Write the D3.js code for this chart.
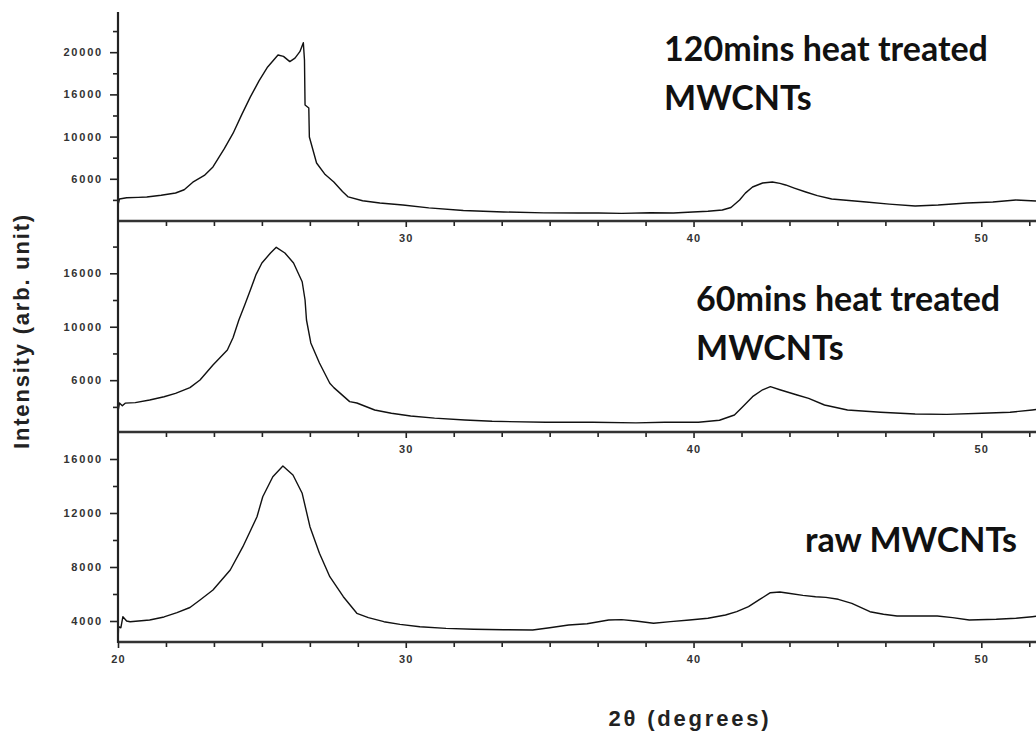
<!DOCTYPE html>
<html><head><meta charset="utf-8">
<script src="https://cdn.jsdelivr.net/npm/d3@7"></script>
<style>body{margin:0;background:#fff}svg{display:block}</style>
</head><body><svg id="c" width="1036" height="731"></svg>
<script>
// ---- data (2θ in degrees, intensity in arb. unit) ----
const xTickValues = [20, 30, 40, 50];
const xTickLabels = ["20", "30", "40", "50"];

const top_x = [20.0,20.05,20.3,20.7,21.0,21.5,22.0,22.3,22.6,23.0,23.3,23.7,24.0,24.3,24.6,24.9,25.2,25.56,25.75,25.97,26.15,26.32,26.44,26.48,26.5,26.63,26.65,26.9,27.2,27.5,27.8,28.0,28.5,29.1,29.9,30.8,32.0,33.4,34.8,36.0,36.7,37.5,38.5,39.3,39.97,40.5,41.0,41.3,41.6,41.8,42.05,42.4,42.74,43.0,43.2,43.5,43.9,44.3,44.8,45.3,46.0,46.8,47.7,48.5,49.5,50.4,51.2,51.9];
const top_y = [1900,2600,2750,2800,2850,3050,3320,3700,4600,5400,6400,8600,10400,12600,14700,16600,18250,19670,19500,18880,19300,20060,21130,19080,13750,13390,9950,6870,5500,4620,3500,2850,2400,2130,1900,1550,1250,1070,960,950,950,900,980,950,1070,1150,1300,1600,2490,3300,4030,4500,4620,4450,4270,3900,3440,3000,2600,2450,2250,2000,1780,1900,2130,2250,2490,2370];
const top_tickValues = [20000, 15000, 10000, 5000];
const top_tickLabels = ["20000", "16000", "10000", "6000"];
const top_minor = [2500, 7500, 12500, 17500, 22500];

const mid_x = [20.0,20.05,20.15,20.25,20.6,21.1,21.6,22.0,22.5,22.85,23.3,23.8,24.0,24.2,24.4,24.6,24.8,25.0,25.3,25.5,25.8,26.1,26.4,26.5,26.55,26.7,27.0,27.36,27.5,28.05,28.3,28.92,29.5,30.17,31.0,32.05,33.0,34.86,36.5,38.0,39.0,40.17,40.9,41.42,41.7,42.05,42.4,42.67,43.0,43.6,44.0,44.55,45.35,46.5,47.7,48.8,50.03,51.0,51.77,51.9];
const mid_y = [2050,2860,2600,2850,2900,3140,3450,3770,4300,5020,6420,7820,9000,10630,12000,13440,14900,15960,16900,17430,16900,15960,14210,12500,10630,8480,6610,4707,4300,2990,2864,2209,1900,1647,1450,1273,1150,1058,1060,1000,1060,1058,1250,1741,2500,3453,4100,4389,4100,3612,3300,2676,2209,2000,1834,1800,1900,2000,2209,2250];
const mid_tickValues = [15000, 10000, 5000];
const mid_tickLabels = ["16000", "10000", "6000"];
const mid_minor = [2500, 7500, 12500, 17500];

const raw_x = [20.0,20.02,20.1,20.17,20.3,20.42,21.1,21.6,22.05,22.5,22.85,23.3,23.9,24.34,24.83,25.03,25.38,25.73,26.08,26.4,26.67,27.0,27.36,27.83,28.3,28.7,29.24,29.8,30.49,31.4,32.36,33.4,34.41,35.0,35.66,36.3,37.05,37.5,37.99,38.61,39.2,39.86,40.5,41.11,41.5,41.91,42.3,42.67,43.0,43.3,43.8,44.24,44.6,45.03,45.5,46.13,46.6,47.07,48.47,49.0,49.58,50.52,51.2,51.77,51.9];
const raw_y = [2470,3578,3500,4318,4000,3948,4074,4300,4615,5000,5556,6296,7778,9504,11725,13207,14689,15481,14815,13459,10985,9015,7281,5800,4570,4250,3948,3750,3578,3450,3385,3350,3333,3500,3704,3800,4074,4100,4000,3830,3950,4074,4200,4444,4700,5059,5600,6096,6150,6052,5900,5800,5750,5607,5311,4689,4500,4370,4370,4250,4074,4126,4200,4318,4350];
const raw_tickValues = [16000, 12000, 8000, 4000];
const raw_tickLabels = ["16000", "12000", "8000", "4000"];
const raw_minor = [6000, 10000, 14000];

const annotations = [
  ["120mins heat treated", "MWCNTs"],
  ["60mins heat treated", "MWCNTs"],
  ["raw MWCNTs"]
];

// ---- layout ----
const svg = d3.select("#c");
const X0 = 118, X1 = 1036;
const x = d3.scaleLinear().domain([20, 51.9]).range([X0, X1]);
const xMinor = d3.range(0, 20).map(i => 20 + i * 10 / 6).filter(v => v <= 51.9 && Math.abs(v - Math.round(v / 10) * 10) > 0.01);

const panels = [
  {xs: top_x, ys: top_y, domain: [0, 24760], range: [221, 12], tv: top_tickValues, tl: top_tickLabels, minor: top_minor,
   ann: annotations[0], ax: 664, ay: [61, 110], showX20: false},
  {xs: mid_x, ys: mid_y, domain: [150, 19800], range: [432, 222], tv: mid_tickValues, tl: mid_tickLabels, minor: mid_minor,
   ann: annotations[1], ax: 696, ay: [311, 360], showX20: false},
  {xs: raw_x, ys: raw_y, domain: [2444, 18000], range: [642, 432], tv: raw_tickValues, tl: raw_tickLabels, minor: raw_minor,
   ann: annotations[2], ax: 805, ay: [552], showX20: true}
];

const tickFont = "bold 11px Arial, 'Liberation Sans', sans-serif";

panels.forEach(p => {
  const y = d3.scaleLinear().domain(p.domain).range(p.range);
  const pts = p.xs.map((d, i) => [d, p.ys[i]]);
  svg.append("path").datum(pts)
    .attr("fill", "none").attr("stroke", "#111").attr("stroke-width", 1.4)
    .attr("stroke-linejoin", "round")
    .attr("d", d3.line().x(d => x(d[0])).y(d => y(d[1])));

  const labMap = new Map(p.tv.map((v, i) => [v, p.tl[i]]));
  const gy = svg.append("g").attr("transform", `translate(${X0},0)`)
    .call(d3.axisLeft(y).tickValues(p.tv).tickSize(8).tickPadding(7).tickFormat(v => labMap.get(v)));
  gy.select(".domain").remove();
  gy.selectAll("line").attr("stroke", "#222").attr("stroke-width", 1.6);
  gy.selectAll("text").style("font", tickFont).style("letter-spacing", "1.8px").attr("fill", "#333");
  const gym = svg.append("g").attr("transform", `translate(${X0},0)`)
    .call(d3.axisLeft(y).tickValues(p.minor).tickSize(5).tickFormat(""));
  gym.select(".domain").remove();
  gym.selectAll("line").attr("stroke", "#222").attr("stroke-width", 1.6);

  const yb = p.range[0];
  const xv = p.showX20 ? xTickValues : xTickValues.slice(1);
  const xl = new Map(xTickValues.map((v, i) => [v, xTickLabels[i]]));
  const gx = svg.append("g").attr("transform", `translate(0,${yb})`)
    .call(d3.axisBottom(x).tickValues(xv).tickSize(6).tickPadding(7).tickFormat(v => xl.get(v)));
  gx.select(".domain").remove();
  gx.selectAll("line").attr("stroke", "#222").attr("stroke-width", 1.6);
  gx.selectAll("text").style("font", tickFont).style("letter-spacing", "1.2px").attr("fill", "#333");
  const gxm = svg.append("g").attr("transform", `translate(0,${yb})`)
    .call(d3.axisBottom(x).tickValues(xMinor).tickSize(5).tickFormat(""));
  gxm.select(".domain").remove();
  gxm.selectAll("line").attr("stroke", "#222").attr("stroke-width", 1.6);

  svg.append("line").attr("x1", X0).attr("x2", X1).attr("y1", yb).attr("y2", yb)
    .attr("stroke", "#333").attr("stroke-width", 2.6);

  p.ann.forEach((t, i) => {
    svg.append("text").attr("x", p.ax).attr("y", p.ay[i]).text(t)
      .style("font", "bold 34px Lato, 'Open Sans', sans-serif").attr("fill", "#111")
      .style("letter-spacing", "0px");
  });
});

svg.append("line").attr("x1", X0).attr("x2", X0).attr("y1", 12).attr("y2", 643)
  .attr("stroke", "#222").attr("stroke-width", 2.2);

svg.append("text").attr("transform", "translate(29,331) rotate(-90)")
  .attr("text-anchor", "middle").text("Intensity (arb. unit)")
  .style("font", "bold 22px Arial, 'Liberation Sans', sans-serif").style("letter-spacing", "1.8px").attr("fill", "#222");
svg.append("text").attr("x", 690).attr("y", 726)
  .attr("text-anchor", "middle").text("2θ (degrees)")
  .style("font", "bold 22px Arial, 'Liberation Sans', sans-serif").style("letter-spacing", "2.8px").attr("fill", "#222");
</script>
</body></html>
